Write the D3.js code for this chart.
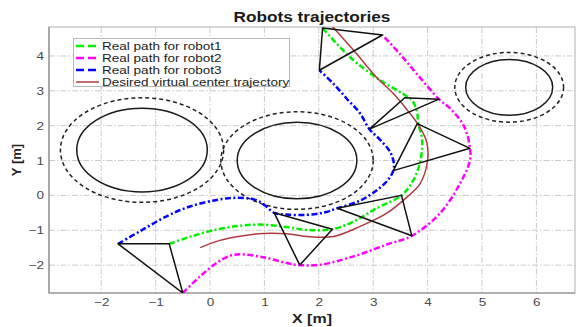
<!DOCTYPE html>
<html>
<head>
<meta charset="utf-8">
<script src="https://cdn.jsdelivr.net/npm/d3@7"></script>
<style>
  html, body { margin: 0; padding: 0; background: #fff; }
  svg { display: block; font-family: "Liberation Sans", Arial, sans-serif; }
</style>
</head>
<body>
<svg id="chart" width="577" height="327"></svg>
<script>
// Robot formation paths, [x, y] in metres
const robot1Path = [[-0.75,-1.39],[-0.37,-1.19],[0.06,-1.0],[0.55,-0.87],[0.98,-0.84],[1.41,-0.91],[1.78,-0.99],[2.25,-0.97],[2.64,-0.75],[3.06,-0.37],[3.52,0.0],[3.74,0.44],[3.87,1.01],[3.9,1.59],[3.83,2.06],[3.8,2.44],[3.71,2.73],[3.6,2.86],[3.49,2.97],[3.13,3.3],[2.57,3.97],[2.07,4.8]];
const robot2Path = [[-0.5,-2.8],[-0.18,-2.32],[0.12,-1.94],[0.37,-1.73],[0.55,-1.69],[1.0,-1.78],[1.41,-1.94],[1.65,-2.0],[2.02,-1.99],[2.64,-1.75],[3.25,-1.41],[3.71,-1.16],[4.23,-0.51],[4.6,0.35],[4.78,1.01],[4.78,1.35],[4.68,1.95],[4.45,2.44],[4.21,2.76],[3.8,3.49],[3.49,4.06],[3.17,4.6]];
const robot3Path = [[-1.69,-1.39],[-1.29,-1.03],[-0.8,-0.6],[-0.37,-0.32],[0.12,-0.13],[0.5,-0.07],[0.86,-0.14],[1.02,-0.3],[1.18,-0.5],[1.41,-0.55],[1.78,-0.56],[2.1,-0.49],[2.34,-0.37],[2.76,-0.15],[3.06,0.14],[3.27,0.44],[3.37,0.71],[3.38,0.92],[3.31,1.25],[3.13,1.59],[2.93,1.9],[2.76,2.35],[2.51,2.78],[2.27,3.2],[2.01,3.59]];
const desiredPath = [[-0.18,-1.5],[0.18,-1.29],[0.55,-1.17],[0.98,-1.09],[1.41,-1.1],[1.78,-1.18],[2.27,-1.18],[2.76,-0.89],[3.25,-0.51],[3.62,-0.05],[3.86,0.33],[4.0,1.0],[3.98,1.55],[3.82,2.05],[3.6,2.5],[3.37,2.92],[3.06,3.39],[2.64,4.16],[2.24,4.86]];

// Formation snapshots: robot3, robot1, robot2 vertices
const formations = [
  [[-1.69,-1.39],[-0.75,-1.39],[-0.5,-2.8]],
  [[1.18,-0.5],[2.25,-0.97],[1.65,-2.0]],
  [[2.34,-0.37],[3.52,0.0],[3.71,-1.16]],
  [[3.37,0.71],[3.81,2.06],[4.78,1.35]],
  [[2.93,1.9],[3.58,2.8],[4.21,2.76]],
  [[2.01,3.59],[2.07,4.8],[3.17,4.6]]
];

// Obstacles: centre x, centre y, radius, safety radius
const obstacleX = [-1.25, 1.6, 5.5];
const obstacleY = [1.3, 1.0, 3.1];
const obstacleR = [1.2, 1.1, 0.8];
const safetyR = [1.5, 1.4, 1.0];

const xTicks = [-2,-1,0,1,2,3,4,5,6];
const yTicks = [-2,-1,0,1,2,3,4];

const legendLabels = ["Real path for robot1","Real path for robot2","Real path for robot3","Desired virtual center trajectory"];
const seriesColors = ["#00ee00","#ff00ff","#0000ff","#b03a40"];

const svg = d3.select("#chart");
const plotL = 49, plotR = 575, plotT = 27, plotB = 293;
const stretch = 1.23;  // horizontal text widening

const x = d3.scaleLinear().domain([-2.96, 6.71]).range([plotL, plotR]);
const y = d3.scaleLinear().domain([-2.8, 4.83]).range([plotB, plotT]);

svg.append("defs").append("clipPath").attr("id","plotClip")
  .append("rect").attr("x",plotL).attr("y",plotT).attr("width",plotR-plotL).attr("height",plotB-plotT);

// Grid
const grid = svg.append("g");
grid.selectAll(".gx").data(xTicks).join("line")
  .attr("x1",d=>x(d)).attr("x2",d=>x(d)).attr("y1",plotT).attr("y2",plotB)
  .attr("stroke","#c4c4c4").attr("stroke-width",0.9).attr("stroke-dasharray","6,2,1.5,2");
grid.selectAll(".gy").data(yTicks).join("line")
  .attr("y1",d=>y(d)).attr("y2",d=>y(d)).attr("x1",plotL).attr("x2",plotR)
  .attr("stroke","#c4c4c4").attr("stroke-width",0.9).attr("stroke-dasharray","6,2,1.5,2");

// Axes
const xAxis = svg.append("g").attr("transform",`translate(0,${plotB})`)
  .call(d3.axisBottom(x).tickValues(xTicks).tickSize(0).tickPadding(5));
const yAxis = svg.append("g").attr("transform",`translate(${plotL},0)`)
  .call(d3.axisLeft(y).tickValues(yTicks).tickSize(0).tickPadding(4));
[xAxis, yAxis].forEach(a => {
  a.select(".domain").remove();
  a.selectAll("text").attr("fill","#4a4a4a").attr("font-size",11)
    .attr("font-family","'Liberation Sans', Arial, sans-serif")
    .attr("transform",`scale(${stretch},1)`);
});

// Frame
svg.append("rect").attr("x",plotL).attr("y",plotT).attr("width",plotR-plotL).attr("height",plotB-plotT)
  .attr("fill","none").attr("stroke","#b0b0b0").attr("stroke-width",1);
svg.append("line").attr("x1",plotL).attr("x2",plotL).attr("y1",plotT).attr("y2",plotB)
  .attr("stroke","#8a8a8a").attr("stroke-width",1.2);
svg.append("line").attr("x1",plotL).attr("x2",plotR).attr("y1",plotB).attr("y2",plotB)
  .attr("stroke","#8a8a8a").attr("stroke-width",1.2);

const plot = svg.append("g").attr("clip-path","url(#plotClip)");

// Obstacles
const obstacles = obstacleX.map((cx,i)=>({cx, cy: obstacleY[i], r: obstacleR[i], s: safetyR[i]}));
plot.selectAll(".safe").data(obstacles).join("ellipse")
  .attr("cx",d=>x(d.cx)).attr("cy",d=>y(d.cy))
  .attr("rx",d=>x(d.s)-x(0)).attr("ry",d=>y(0)-y(d.s))
  .attr("fill","none").attr("stroke","#222").attr("stroke-width",1.5).attr("stroke-dasharray","4,3");
plot.selectAll(".obs").data(obstacles).join("ellipse")
  .attr("cx",d=>x(d.cx)).attr("cy",d=>y(d.cy))
  .attr("rx",d=>x(d.r)-x(0)).attr("ry",d=>y(0)-y(d.r))
  .attr("fill","none").attr("stroke","#1a1a1a").attr("stroke-width",1.5);

// Paths
const line = d3.line().x(d=>x(d[0])).y(d=>y(d[1])).curve(d3.curveCatmullRom.alpha(0.5));
const robotPaths = [robot1Path, robot2Path, robot3Path];
robotPaths.forEach((p,i)=>{
  plot.append("path").attr("d",line(p)).attr("fill","none")
    .attr("stroke",seriesColors[i]).attr("stroke-width",2.5)
    .attr("stroke-dasharray","6,2.5,2,2.5");
});
plot.append("path").attr("d",line(desiredPath)).attr("fill","none")
  .attr("stroke",seriesColors[3]).attr("stroke-width",1.5);

// Formation triangles
plot.selectAll(".tri").data(formations).join("path")
  .attr("d",d=>"M"+d.map(p=>[x(p[0]),y(p[1])].join(",")).join("L")+"Z")
  .attr("fill","none").attr("stroke","#111").attr("stroke-width",1.5).attr("stroke-linejoin","round");

// Legend
const lg = svg.append("g");
lg.append("rect").attr("x",73.5).attr("y",38.5).attr("width",216).attr("height",48)
  .attr("fill","#fff").attr("stroke","#b8b8b8").attr("stroke-width",1);
legendLabels.forEach((lab,i)=>{
  const ly = 46 + i*12;
  lg.append("line").attr("x1",76).attr("x2",99).attr("y1",ly).attr("y2",ly)
    .attr("stroke",seriesColors[i]).attr("stroke-width",i<3?2.5:1.5)
    .attr("stroke-dasharray",i<3?"8,4":null);
  lg.append("text").attr("transform",`translate(102,${ly}) scale(${stretch},1)`).attr("dy","0.35em")
    .attr("font-size",11).attr("fill","#222").text(lab);
});

// Titles
svg.append("text").attr("transform",`translate(${(plotL+plotR)/2},17) scale(${stretch},1)`).attr("dy","0.35em")
  .attr("text-anchor","middle").attr("font-weight","bold").attr("font-size",14).attr("fill","#1a1a1a")
  .text("Robots trajectories");
svg.append("text").attr("transform",`translate(${(plotL+plotR)/2},318) scale(${stretch},1)`).attr("dy","0.35em")
  .attr("text-anchor","middle").attr("font-weight","bold").attr("font-size",13).attr("fill","#222")
  .text("X [m]");
svg.append("text").attr("transform",`translate(16,${(plotT+plotB)/2}) rotate(-90)`).attr("dy","0.35em")
  .attr("text-anchor","middle").attr("font-weight","bold").attr("font-size",13).attr("fill","#222")
  .text("Y [m]");
</script>
</body>
</html>
